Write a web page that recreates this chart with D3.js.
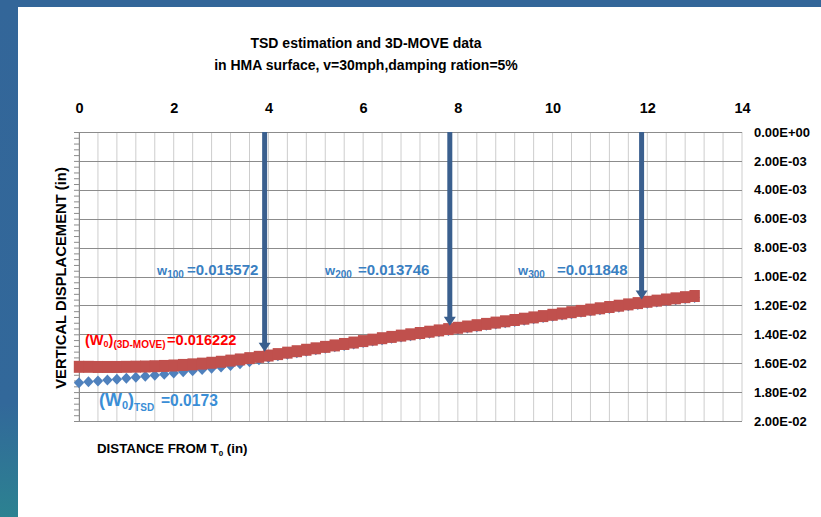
<!DOCTYPE html>
<html>
<head>
<meta charset="utf-8">
<script src="https://cdn.jsdelivr.net/npm/d3@7"></script>
<style>
  body { margin: 0; background: #fff; }
  text { font-family: "Liberation Sans", Arial, sans-serif; font-weight: bold; }
</style>
</head>
<body>
<div id="chart"></div>
<script>
// values
var distance = [0, 0.2, 0.4, 0.6, 0.8, 1.0, 1.2, 1.4, 1.6, 1.8, 2.0, 2.2, 2.4, 2.6, 2.8, 3.0, 3.2, 3.4, 3.6, 3.8,
	4.0, 4.2, 4.4, 4.6, 4.8, 5.0, 5.2, 5.4, 5.6, 5.8, 6.0, 6.2, 6.4, 6.6, 6.8, 7.0, 7.2, 7.4, 7.6, 7.8,
	8.0, 8.2, 8.4, 8.6, 8.8, 9.0, 9.2, 9.4, 9.6, 9.8, 10.0, 10.2, 10.4, 10.6, 10.8, 11.0, 11.2, 11.4, 11.6, 11.8,
	12.0, 12.2, 12.4, 12.6, 12.8, 13.0];
var w3dMove = [0.01625, 0.01625, 0.01626, 0.01626, 0.01626, 0.01625, 0.01624, 0.01623, 0.01621, 0.01619,
	0.01616, 0.01612, 0.01608, 0.01603, 0.01597, 0.01590, 0.01582, 0.01574, 0.01565, 0.01556,
	0.01547, 0.01537, 0.01527, 0.01517, 0.01507, 0.01497, 0.01487, 0.01477, 0.01467, 0.01457,
	0.01447, 0.01437, 0.01427, 0.01418, 0.01409, 0.01400, 0.01391, 0.01382, 0.01373, 0.01364,
	0.01355, 0.01346, 0.01337, 0.01328, 0.01319, 0.01310, 0.01301, 0.01292, 0.01283, 0.01274,
	0.01265, 0.01256, 0.01247, 0.01238, 0.01229, 0.01220, 0.01211, 0.01202, 0.01193, 0.01184,
	0.01175, 0.01167, 0.01159, 0.01151, 0.01143, 0.01135];
var wTsd = [0.01735, 0.01729, 0.01723, 0.01717, 0.01711, 0.01704, 0.01697, 0.01690, 0.01683, 0.01676,
	0.01668, 0.01660, 0.01652, 0.01644, 0.01635, 0.01626, 0.01616, 0.01603, 0.01590, 0.01576,
	0.01562, 0.01549, 0.01538, 0.01527, 0.01517, 0.01507, 0.01497, 0.01487, 0.01477, 0.01467,
	0.01457, 0.01447, 0.01437, 0.01428, 0.01419, 0.01410, 0.01401, 0.01392, 0.01383, 0.01374,
	0.01365, 0.01356, 0.01347, 0.01338, 0.01329, 0.01320, 0.01311, 0.01302, 0.01293, 0.01284,
	0.01275, 0.01266, 0.01257, 0.01248, 0.01239, 0.01230, 0.01221, 0.01212, 0.01203, 0.01194,
	0.01185, 0.01177, 0.01169, 0.01161, 0.01153, 0.01145];
var xTicks = [0, 2, 4, 6, 8, 10, 12, 14];
var yTicks = [0, 0.002, 0.004, 0.006, 0.008, 0.010, 0.012, 0.014, 0.016, 0.018, 0.020];
var arrowDist = [3.92, 7.83, 11.88];
var arrowTip = [0.0152, 0.0134, 0.0116];
var wSubs = ["100", "200", "300"];
var wValues = ["=0.015572", "=0.013746", "=0.011848"];

var W = 821, H = 517;
var svg = d3.select("#chart").append("svg").attr("width", W).attr("height", H);

// slide frame
var grad = svg.append("defs").append("linearGradient").attr("id", "side").attr("x1", 0).attr("y1", 0).attr("x2", 0).attr("y2", 1);
grad.append("stop").attr("offset", "0%").attr("stop-color", "#336699");
grad.append("stop").attr("offset", "78%").attr("stop-color", "#32689a");
grad.append("stop").attr("offset", "100%").attr("stop-color", "#2c8291");
svg.append("rect").attr("x", 0).attr("y", 0).attr("width", W).attr("height", 7).attr("fill", "#336699");
svg.append("rect").attr("x", 0).attr("y", 0).attr("width", 18).attr("height", H).attr("fill", "url(#side)");

var x = d3.scaleLinear().domain([0, 14]).range([79, 742]);
var y = d3.scaleLinear().domain([0, 0.02]).range([132, 421]);

// title
var title = svg.append("text").attr("text-anchor", "middle").attr("font-size", 14);
title.append("tspan").attr("x", 366).attr("y", 48).text("TSD estimation and 3D-MOVE data");
title.append("tspan").attr("x", 366).attr("y", 70).text("in HMA surface, v=30mph,damping ration=5%");

// grid
var g = svg.append("g");
g.selectAll(".vgrid").data(d3.range(0, 36).map(function(i) { return i * 0.4; })).enter().append("line")
	.attr("x1", function(d) { return x(d); }).attr("x2", function(d) { return x(d); })
	.attr("y1", y(0)).attr("y2", y(0.02)).attr("stroke", "#cdcdcd").attr("stroke-width", 1);
g.selectAll(".hgrid").data(yTicks).enter().append("line")
	.attr("x1", x(0)).attr("x2", x(14))
	.attr("y1", function(d) { return Math.round(y(d)) + 0.5; }).attr("y2", function(d) { return Math.round(y(d)) + 0.5; })
	.attr("stroke", "#8c8c8c").attr("stroke-width", 1);

// left axis with minor ticks
var minor = d3.range(0, 51).map(function(i) { return i * 0.0004; });
var leftAxis = svg.append("g").attr("transform", "translate(" + x(0) + ",0)")
	.call(d3.axisLeft(y).tickValues(minor).tickSize(5).tickSizeOuter(0).tickFormat(""));
leftAxis.selectAll("path, line").attr("stroke", "#8c8c8c");

// bottom axis line
svg.append("line").attr("x1", x(0)).attr("x2", x(14)).attr("y1", 421.5).attr("y2", 421.5).attr("stroke", "#8c8c8c");

// top axis
var topAxis = svg.append("g").attr("transform", "translate(0,119)")
	.call(d3.axisTop(x).tickValues(xTicks).tickSize(0).tickPadding(6).tickFormat(d3.format("d")));
topAxis.select(".domain").remove();
topAxis.selectAll("text").attr("font-size", 14.5).attr("font-family", null).attr("fill", "#000");

// right axis
function fmtE(v) {
	return v.toExponential(2).toUpperCase().replace(/E([+-])(\d)$/, function(m, s, d) { return "E" + s + "0" + d; });
}
var rightAxis = svg.append("g").attr("transform", "translate(" + x(14) + ",0)")
	.call(d3.axisRight(y).tickValues(yTicks).tickSize(0).tickPadding(12).tickFormat(fmtE));
rightAxis.select(".domain").remove();
rightAxis.selectAll("text").attr("font-size", 13).attr("font-family", null).attr("fill", "#000");

// axis titles
svg.append("text").attr("transform", "translate(66,278) rotate(-90)").attr("text-anchor", "middle")
	.attr("font-size", 14.8).text("VERTICAL DISPLACEMENT (in)");
var xt = svg.append("text").attr("x", 97).attr("y", 453).attr("font-size", 13.3);
xt.append("tspan").text("DISTANCE FROM T");
xt.append("tspan").attr("font-size", 8).attr("dy", 3).text("0");
xt.append("tspan").attr("dy", -3).text(" (in)");

// series: TSD diamonds under 3D-MOVE squares
var pts = distance.map(function(d, i) { return { d: d, tsd: wTsd[i], move: w3dMove[i] }; });
svg.append("g").selectAll("path").data(pts).enter().append("path")
	.attr("d", "M0,-5.5L5.2,0L0,5.5L-5.2,0Z")
	.attr("transform", function(p) { return "translate(" + x(p.d) + "," + y(p.tsd) + ")"; })
	.attr("fill", "#4f81bd");
svg.append("g").selectAll("rect").data(pts).enter().append("rect")
	.attr("x", function(p) { return x(p.d) - 5.2; }).attr("y", function(p) { return y(p.move) - 6; })
	.attr("width", 10.4).attr("height", 12).attr("fill", "#c0504d");

// arrows
var arrows = svg.append("g").selectAll("g").data(arrowDist).enter().append("g").attr("fill", "#3a5f8e");
arrows.append("rect")
	.attr("x", function(d) { return x(d) - 2.5; }).attr("y", y(0))
	.attr("width", 5).attr("height", function(d, i) { return y(arrowTip[i]) - y(0) - 8; });
arrows.append("path").attr("d", function(d, i) {
	var tx = x(d), ty = y(arrowTip[i]);
	return "M" + (tx - 6) + "," + (ty - 9) + "L" + (tx + 6) + "," + (ty - 9) + "L" + tx + "," + ty + "Z";
});

// w labels
var wX = [157, 325, 518];
var wValX = [187, 358, 557];
wSubs.forEach(function(s, i) {
	var t = svg.append("text").attr("y", 275).attr("fill", "#3a80c2").attr("font-size", 13);
	t.append("tspan").attr("x", wX[i]).text("w");
	t.append("tspan").attr("font-size", 10).attr("dy", 3).text(s);
	t.append("tspan").attr("x", wValX[i]).attr("dy", -3).attr("font-size", 15).text(wValues[i]);
});

// (W0)(3D-MOVE) label
var rl = svg.append("text").attr("y", 345).attr("fill", "#ff0000").attr("font-size", 14.5);
rl.append("tspan").attr("x", 85).text("(W");
rl.append("tspan").attr("font-size", 9).attr("dy", 2).text("0");
rl.append("tspan").attr("dy", -2).text(")");
rl.append("tspan").attr("font-size", 10).attr("dy", 2.5).text("(3D-MOVE)");
rl.append("tspan").attr("x", 167).attr("dy", -2.5).attr("font-size", 14.6).text("=0.016222");

// (W0)TSD label
var bl = svg.append("text").attr("y", 406).attr("fill", "#3a8ed6").attr("font-size", 18);
bl.append("tspan").attr("x", 99).text("(W");
bl.append("tspan").attr("font-size", 11).attr("dy", 3).text("0");
bl.append("tspan").attr("dy", -3).text(")");
bl.append("tspan").attr("font-size", 10).attr("dy", 5).text("TSD");
bl.append("tspan").attr("x", 161).attr("dy", -5).attr("font-size", 15.6).text("=0.0173");
</script>
</body>
</html>
